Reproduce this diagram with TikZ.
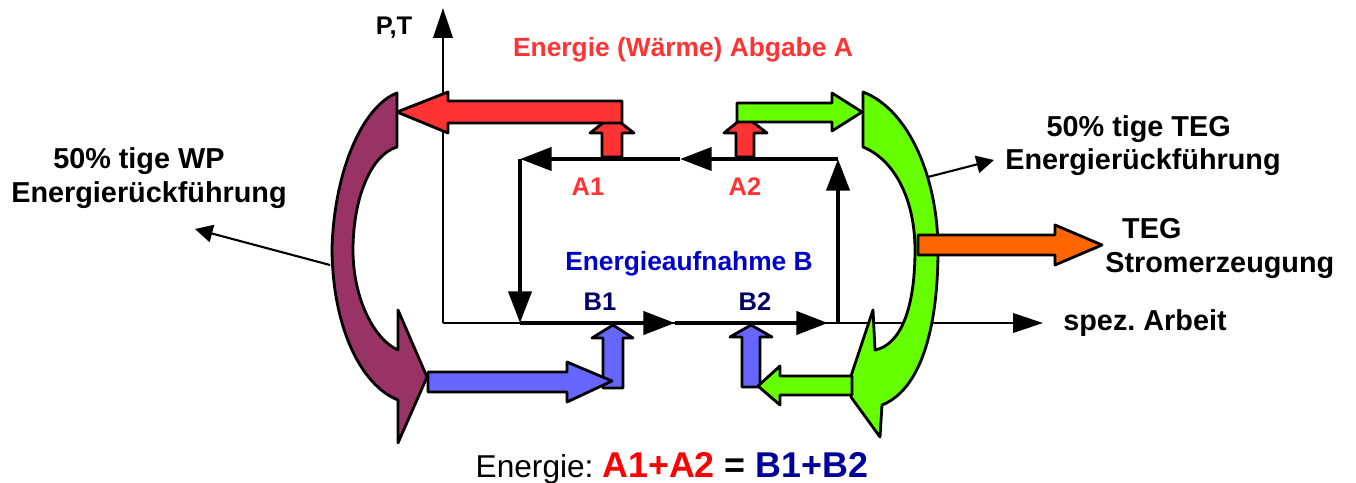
\documentclass[tikz,border=0pt]{standalone}
\usepackage{fontspec}
\setmainfont{Liberation Sans}
\usepackage{tikz}
\usetikzlibrary{arrows.meta}
\frenchspacing

\definecolor{abgabered}{HTML}{FF3333}
\definecolor{flowblue}{HTML}{6666FF}
\definecolor{tegGreen}{HTML}{66FF00}
\definecolor{stromorange}{HTML}{FF6600}
\definecolor{wpPurple}{HTML}{993366}
\definecolor{aufnahmeblue}{HTML}{0000CC}
\definecolor{bnavy}{HTML}{000066}
\definecolor{sumred}{HTML}{FF0000}
\definecolor{sumblue}{HTML}{000099}

\begin{document}
\begin{tikzpicture}[x=0.02cm, y=-0.02cm, >=Latex, line join=round,
    axis/.style={line width=1.5pt, -{Triangle[length=17pt,width=11pt]}},
    cycleline/.style={line width=2.6pt, -{Triangle[length=18pt,width=13pt]}},
    pointer/.style={line width=1.2pt, -{Triangle[length=10pt,width=10pt]}},
    blk/.style={draw=black, line width=1.6pt},
    lbl/.style={font=\fontsize{16.4}{19.3}\selectfont\bfseries, align=center, inner sep=0pt},
    lblsmall/.style={font=\fontsize{14.5}{17}\selectfont\bfseries, inner sep=0pt}]
            \useasboundingbox (0,0) rectangle (1356,483);

            % axes
            \coordinate (O) at (443,323);
            \coordinate (yend) at (443,8);
            \coordinate (xend) at (1043,323);
            % cycle corners
            \coordinate (c1) at (520,159);
            \coordinate (c2) at (838,159);
            \coordinate (c3) at (838,323);
            \coordinate (c4) at (520,323);
            \coordinate (topmid) at (680,159);
            \coordinate (botmid) at (675,323);
            \coordinate (botend) at (828,323);
            % pointer ends
            \coordinate (wpfrom) at (330,265);
            \coordinate (wpto) at (195,229);
            \coordinate (tegfrom) at (928,177);
            \coordinate (tegto) at (994,160);

            \draw[axis] (O) -- (yend);
            \draw[axis] (O) -- (xend);

            \draw[cycleline] (c2) -- (topmid);
            \draw[cycleline] (topmid) -- (c1);
            \draw[cycleline] (c1) -- (c4);
            \draw[cycleline] (c4) -- (botmid);
            \draw[cycleline] (botmid) -- (botend);
            \draw[cycleline] (c3) -- (c2);

            % heat out at A1, A2
            \draw[blk, fill=abgabered] (602,157) -- (602,133) -- (590,133) -- (612,116) -- (634,133) -- (622,133) -- (622,157) -- cycle;
            \draw[blk, fill=abgabered] (736,157) -- (736,133) -- (724,133) -- (745,116) -- (767,133) -- (754,133) -- (754,157) -- cycle;
            \draw[blk, fill=abgabered] (622,101) -- (448,101) -- (448,92) -- (397,112) -- (448,133) -- (448,123) -- (622,123) -- cycle;
            \draw[blk, fill=tegGreen] (737,103) -- (832,103) -- (832,93) -- (862,112) -- (832,131) -- (832,122) -- (737,122) -- cycle;

            \draw[pointer] (wpfrom) -- (wpto);
            \draw[pointer] (tegfrom) -- (tegto);

            % curved return arrows
            \draw[blk, fill=wpPurple] (397,93) .. controls (365,105) and (335,165) .. (332,247)
                .. controls (332,325) and (360,385) .. (398,400)
                -- (398,443) -- (427,377) -- (398,310) -- (398,350)
                .. controls (375,340) and (353,300) .. (353,250)
                .. controls (353,200) and (370,155) .. (397,147) -- cycle;
            \draw[blk, fill=tegGreen] (863,92) .. controls (910,110) and (938,180) .. (938,250)
                .. controls (938,330) and (920,390) .. (882,405)
                -- (880,437) -- (851,397) -- (851,376) -- (873,310) -- (875,350)
                .. controls (900,345) and (915,310) .. (915,250)
                .. controls (915,200) and (895,160) .. (863,147) -- cycle;

            % heat in at B1, B2
            \draw[blk, fill=flowblue] (603,388) -- (603,338) -- (592,338) -- (613,325) -- (633,338) -- (623,338) -- (623,388) -- cycle;
            \draw[blk, fill=flowblue] (742,387) -- (742,337) -- (730,337) -- (751,325) -- (772,337) -- (760,337) -- (760,387) -- cycle;
            \draw[blk, fill=flowblue] (428,372) -- (567,372) -- (567,362) -- (612,381) -- (567,402) -- (567,392) -- (428,392) -- cycle;
            \draw[blk, fill=tegGreen] (852,376) -- (780,376) -- (780,366) -- (758,386) -- (780,405) -- (780,395) -- (852,395) -- cycle;
            \draw[blk, fill=stromorange] (918,235) -- (1055,235) -- (1055,225) -- (1102,245) -- (1055,265) -- (1055,255) -- (918,255) -- cycle;

            % labels
            \node[lblsmall, anchor=base] (pt) at (394,35) {P,T};
            \node[lblsmall, anchor=base, text=abgabered, font=\fontsize{15}{17}\selectfont\bfseries] (abgabe) at (683,57) {Energie (Wärme) Abgabe A};
            \node[lblsmall, anchor=base, text=abgabered] (a1) at (588,195) {A1};
            \node[lblsmall, anchor=base, text=abgabered] (a2) at (745,195) {A2};
            \node[lblsmall, anchor=base, text=aufnahmeblue, font=\fontsize{15}{17}\selectfont\bfseries] (aufnahme) at (689,270) {Energieaufnahme B};
            \node[lblsmall, anchor=base, text=bnavy] (b1) at (600,310) {B1};
            \node[lblsmall, anchor=base, text=bnavy] (b2) at (755,310) {B2};
            \node[lbl, anchor=base] (wplabel) at (149,202) {50\% tige WP\hspace*{0.7em}\\Energierückführung};
            \node[lbl, anchor=base] (tegback) at (1143,170) {50\% tige TEG\hspace*{0.3em}\\Energierückführung};
            \node[lbl, align=left, anchor=base west] (tegstrom) at (1105,272) {\hspace*{9.6pt}TEG\\Stromerzeugung};
            \node[lbl, anchor=base west] (arbeit) at (1063,330) {spez. Arbeit};
            \node[anchor=base, inner sep=0pt] (bilanz) at (672,477) {\fontsize{18}{20}\selectfont Energie: \fontsize{20.4}{22}\selectfont\bfseries\textcolor{sumred}{A1+A2} = \textcolor{sumblue}{B1+B2}};

        \end{tikzpicture}
\end{document}
